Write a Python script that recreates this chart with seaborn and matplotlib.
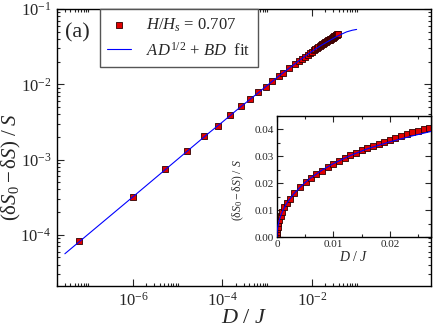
import numpy as np
import matplotlib
matplotlib.use("Agg")
import matplotlib.pyplot as plt
import matplotlib.ticker as mticker
import seaborn as sns

# data
D = [6.2e-8, 1.0e-6, 5.2e-6, 1.6e-5, 3.9e-5, 8.0e-5, 1.5e-4, 2.6e-4, 4.2e-4,
     6.3e-4, 9.5e-4, 1.3e-3, 1.85e-3, 2.3e-3, 3.1e-3, 4.1e-3, 5.2e-3, 6.0e-3,
     7.0e-3, 8.0e-3, 9.0e-3, 0.010, 0.011, 0.012, 0.013, 0.014, 0.015, 0.016,
     0.017, 0.018, 0.019, 0.020, 0.021, 0.022, 0.023, 0.024, 0.025, 0.026,
     0.027, 0.028, 0.029, 0.030, 0.031, 0.032, 0.033, 0.034, 0.035, 0.036,
     0.037, 0.038]
dS = [8.3e-5, 3.2e-4, 7.4e-4, 1.29e-3, 2.04e-3, 2.8e-3, 3.9e-3, 5.1e-3, 6.4e-3,
      7.8e-3, 9.3e-3, 0.0110, 0.0127, 0.0140, 0.0162, 0.0185, 0.0205, 0.0218,
      0.0233, 0.0247, 0.0260, 0.0272, 0.0284, 0.0293, 0.0305, 0.0314, 0.0322,
      0.0331, 0.0338, 0.0347, 0.0355, 0.0362, 0.0368, 0.0376, 0.0382, 0.0389,
      0.0393, 0.0400, 0.0404, 0.0410, 0.0416, 0.0422, 0.0428, 0.0434, 0.0440,
      0.0446, 0.0452, 0.0458, 0.0464, 0.0470]

fit_D = [3e-8, 1e-6, 5e-6, 2e-5, 5e-5, 1e-4, 2e-4, 4e-4, 7e-4, 1e-3, 1.5e-3,
         2e-3, 3e-3, 4e-3, 5e-3, 6e-3, 8e-3, 0.01, 0.013, 0.016, 0.02, 0.024,
         0.028, 0.035, 0.045, 0.06, 0.08, 0.1]
fit_S = [5.6e-5, 3.2e-4, 7.15e-4, 1.43e-3, 2.26e-3, 3.15e-3, 4.45e-3, 6.2e-3,
         8.1e-3, 9.65e-3, 0.0117, 0.0134, 0.0161, 0.0183, 0.0203, 0.0220,
         0.0249, 0.0273, 0.0303, 0.0328, 0.0354, 0.0376, 0.0396, 0.0427,
         0.0460, 0.0497, 0.0522, 0.0535]

sns.set_style("ticks")
plt.rcParams['font.family'] = ['Liberation Serif', 'DejaVu Serif']
plt.rcParams['mathtext.fontset'] = 'custom'
plt.rcParams['mathtext.rm'] = 'Liberation Serif'
plt.rcParams['mathtext.it'] = 'Liberation Serif:italic'
plt.rcParams['xtick.direction'] = 'in'
plt.rcParams['ytick.direction'] = 'in'

fig = plt.figure(figsize=(4.36, 3.29), dpi=100)
ax = fig.add_axes([0.1307, 0.1307, 0.8578, 0.842])
ax.set_xscale('log')
ax.set_yscale('log')

sns.scatterplot(x=D, y=dS, marker='s', color='#e00000', edgecolor='#300000',
                linewidth=0.6, s=16, ax=ax, zorder=2,
                label=r'$\mathit{H/H_s}$ = $\mathit{0.707}$')
sns.lineplot(x=fit_D, y=fit_S, color='#0000ff', lw=0.8, ax=ax, zorder=3,
             sort=False, estimator=None, label=r'$AD^{\mathit{1/2}}$ + $BD$  fit')

ax.set_xlim(2.0e-8, 4.6)
ax.set_ylim(10 ** -4.68, 0.1)
ax.xaxis.set_major_locator(mticker.FixedLocator([1e-8, 1e-6, 1e-4, 1e-2]))
minors = [k * 10.0 ** m for m in (-8, -6, -4, -2) for k in range(2, 11)]
ax.xaxis.set_minor_locator(mticker.FixedLocator(minors))
ax.xaxis.set_major_formatter(mticker.LogFormatterMathtext())
ax.xaxis.set_minor_formatter(mticker.NullFormatter())
ax.yaxis.set_major_locator(mticker.LogLocator(base=10, numticks=10))
ax.yaxis.set_minor_locator(mticker.LogLocator(base=10, subs=np.arange(2, 10), numticks=20))
ax.yaxis.set_minor_formatter(mticker.NullFormatter())
ax.tick_params(which='both', top=True, right=True, labelsize=12, width=0.8)
ax.tick_params(which='major', length=5, pad=4)
ax.tick_params(which='minor', length=2.2)
for sp in ax.spines.values():
    sp.set_linewidth(1.0)
    sp.set_color('black')

ax.set_xlabel(r'$D\ /\ J$', fontsize=16, labelpad=0)
ax.set_ylabel(r'$(\mathrm{\delta}S_0 - \mathrm{\delta}S)\ /\ S$', fontsize=15)
ax.yaxis.set_label_coords(-0.092, 0.43)
ax.text(0.022, 0.913, '(a)', transform=ax.transAxes, fontsize=16,
        ha='left', va='center')

leg = ax.legend(loc='upper left', bbox_to_anchor=(0.115, 1.0), borderaxespad=0,
                fontsize=12, frameon=True, fancybox=False, framealpha=1,
                edgecolor='#555555', handlelength=1.4, handletextpad=0.9,
                borderpad=0.45, labelspacing=0.45, markerscale=1.1)
leg.get_frame().set_linewidth(1.0)

# inset
ins = fig.add_axes([0.6353, 0.2796, 0.3532, 0.3678])
ins.set_facecolor('white')
sns.scatterplot(x=D, y=dS, marker='s', color='#e00000', edgecolor='#300000',
                linewidth=0.6, s=14, ax=ins, zorder=2, legend=False)
sns.lineplot(x=[0.0] + fit_D, y=[0.0] + fit_S, color='#0000ff', lw=0.8, ax=ins,
             zorder=3, sort=False, estimator=None, legend=False)
ins.set_xlim(0, 0.0273)
ins.set_ylim(0, 0.045)
ins.xaxis.set_major_locator(mticker.FixedLocator([0, 0.01, 0.02]))
ins.xaxis.set_major_formatter(mticker.FixedFormatter(['0', '0.01', '0.02']))
ins.xaxis.set_minor_locator(mticker.MultipleLocator(0.005))
ins.yaxis.set_major_locator(mticker.MultipleLocator(0.01))
ins.yaxis.set_major_formatter(mticker.FormatStrFormatter('%.2f'))
ins.yaxis.set_minor_locator(mticker.MultipleLocator(0.005))
ins.tick_params(which='both', top=True, right=True, labelsize=8, width=0.8, pad=2)
ins.tick_params(which='major', length=4)
ins.tick_params(which='minor', length=2)
for sp in ins.spines.values():
    sp.set_linewidth(1.0)
    sp.set_color('black')
ins.set_xlabel(r'$D\ /\ J$', fontsize=10, labelpad=1)
ins.set_ylabel(r'$(\mathrm{\delta}S_0 - \mathrm{\delta}S)\ /\ S$', fontsize=8.5)
ins.yaxis.set_label_coords(-0.2, 0.39)

fig.savefig('out.png', dpi=100)
